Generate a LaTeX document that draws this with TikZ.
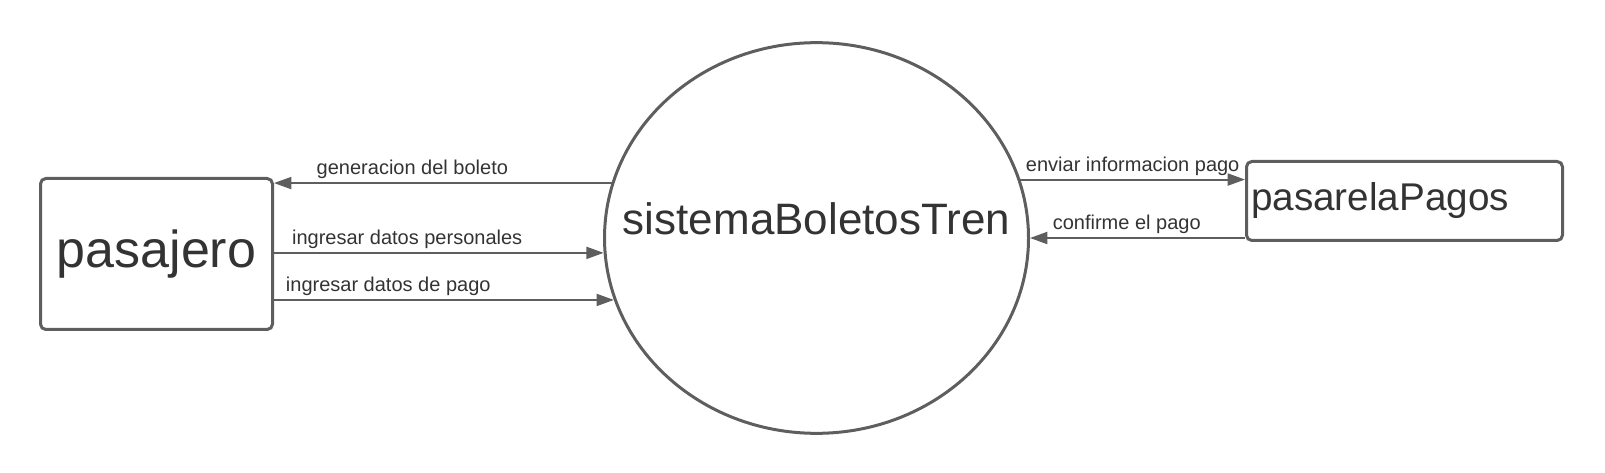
\documentclass[tikz,border=0pt]{standalone}
\usepackage{xcolor}
\usepackage{fontspec}
\setmainfont{Liberation Sans}
\usepackage{tikz}
\usetikzlibrary{arrows.meta,shapes.geometric,calc}
\definecolor{lineGray}{RGB}{94,94,94}
\definecolor{textGray}{RGB}{51,51,51}

\begin{document}
\begin{tikzpicture}[x=0.75pt,y=0.75pt,yscale=-1,xscale=1,
  entity/.style={draw=lineGray, line width=2.25pt, rounded corners=4pt, text=textGray, inner sep=0pt},
  proc/.style={ellipse, draw=lineGray, line width=2.25pt, text=textGray, inner xsep=-40pt, inner ysep=0pt, minimum width=318pt, minimum height=293pt, font=\fontsize{33}{38}\selectfont},
  flow/.style={draw=lineGray, line width=1.5pt, -{Triangle[length=13pt,width=9pt]}},
  flowlabel/.style={above, inner sep=2.5pt, text=textGray, font=\fontsize{15}{18}\selectfont}]
%set diagram area: 1605 x 473
\path[use as bounding box] (0,0) rectangle (1605,473);

%Shape: Ellipse [id:sys]
\node[proc, text height=24pt, text depth=29pt] (sys) at (816.5,238) {sistemaBoletosTren};
%Shape: Rectangle [id:pas]
\node[entity, minimum width=174pt, minimum height=113.25pt, font=\fontsize{39}{45}\selectfont] (pas) at (156.5,254) {pasajero};
%Shape: Rectangle [id:pag]
\node[entity, inner xsep=3.4pt, text width=230.2pt, align=left, minimum height=59.25pt, font=\fontsize{29}{34}\selectfont] (pag) at (1404.5,201) {pasarelaPagos};

%Straight Lines [id:gen]
\draw[flow] (sys.165) -- (sys.165 -| pas.east) node[flowlabel, pos=0.59] (lblGen) {generacion del boleto};
%Straight Lines [id:per]
\draw[flow] (sys.184 -| pas.east) -- (sys.184) node[flowlabel, pos=0.404] (lblPer) {ingresar datos personales};
%Straight Lines [id:pay]
\draw[flow] ($(sys.197.6 -| pas.east)+(-3,0)$) -- (sys.197.6) node[flowlabel, pos=0.342] (lblPay) {ingresar datos de pago};
%Straight Lines [id:env]
\draw[flow] (sys.16) -- (sys.16 -| pag.west) node[flowlabel, pos=0.5] (lblEnv) {enviar informacion pago};
%Straight Lines [id:con]
\draw[flow] (sys.0.5 -| pag.west) -- (sys.0.5) node[flowlabel, pos=0.55] (lblCon) {confirme el pago};

\end{tikzpicture}
\end{document}
